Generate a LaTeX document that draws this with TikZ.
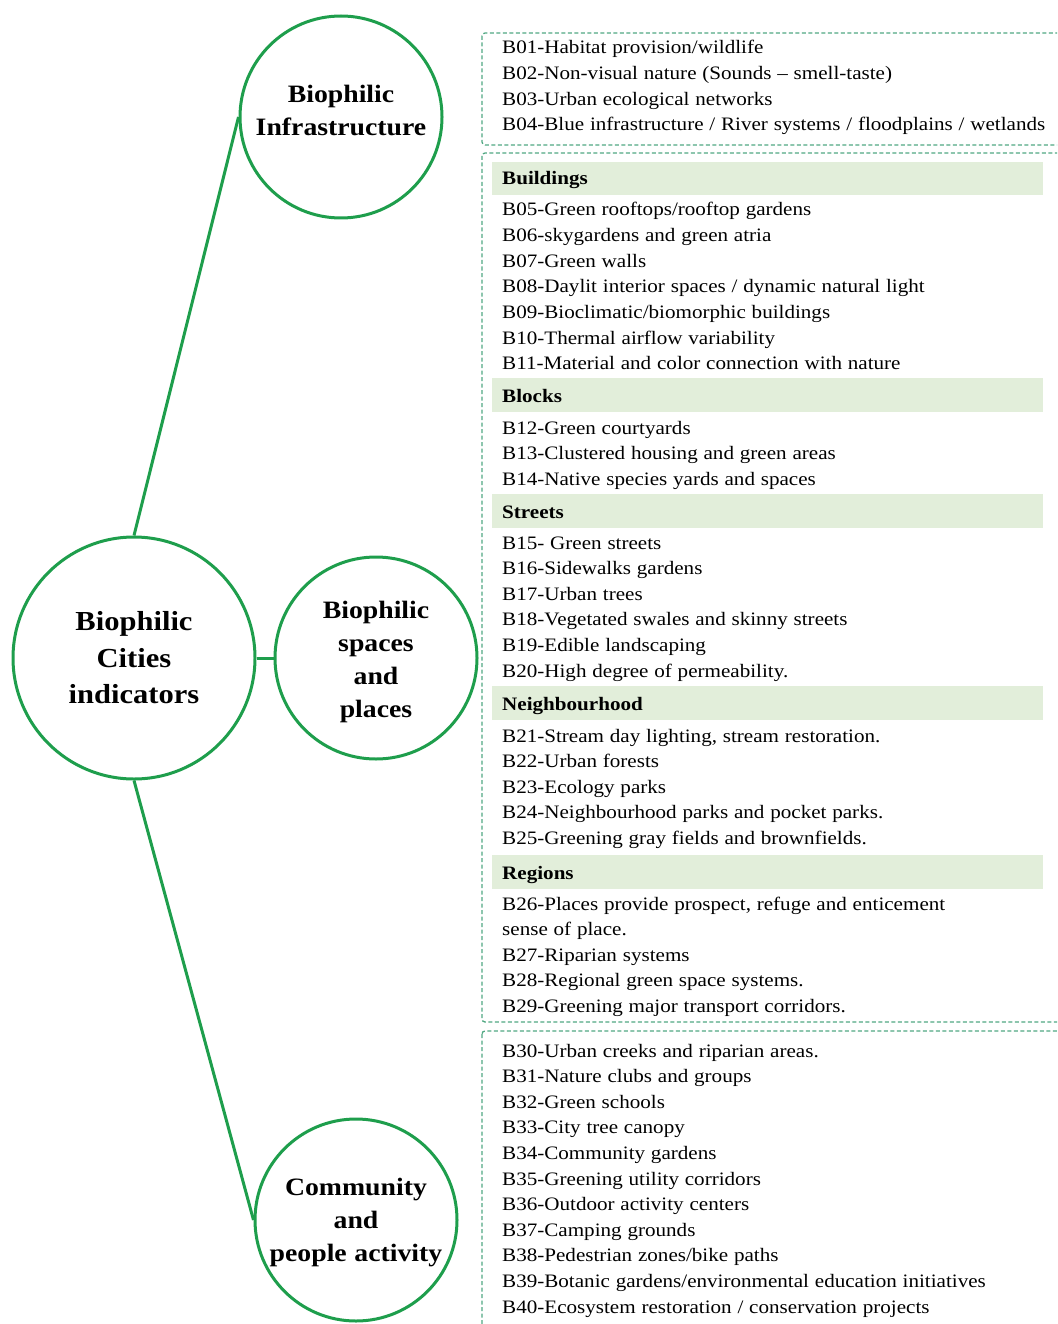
\documentclass[tikz,border=0pt]{standalone}
\usepackage{fontspec}
\setmainfont[FakeStretch=1.11, WordSpace=1.1]{Liberation Serif}
\definecolor{circgreen}{RGB}{30,158,76}
\definecolor{dashteal}{RGB}{80,168,130}
\definecolor{headfill}{RGB}{226,238,218}
\tikzset{
  circ/.style={circle, draw=circgreen, line width=3pt, fill=white, inner sep=0pt, minimum size=202pt},
  circtext/.style={align=center, font=\fontsize{25}{33}\selectfont\bfseries},
  dashbox/.style={draw=dashteal, line width=1.3pt, dash pattern=on 4pt off 2.5pt, rounded corners=3pt},
  headbar/.style={fill=headfill},
  itemtext/.style={anchor=base west, inner sep=0pt, font=\fontsize{19}{22}\selectfont},
  headtext/.style={itemtext, font=\fontsize{19}{22}\selectfont\bfseries}
}
\begin{document}
\begin{tikzpicture}[x=1pt, y=-1pt]

  \useasboundingbox (0,0) rectangle (1057,1324);
  \clip (0,0) rectangle (1057,1324);

  % Circles
  \node[circ, minimum size=242pt, font=\fontsize{27.5}{36.5}\selectfont\bfseries, align=center] (main) at (134,658) {Biophilic\\Cities\\indicators};
  \node[circ] (infra) at (341,117) {};
  \node[circtext] (infralabel) at ([yshift=7pt]infra.center) {Biophilic\\Infrastructure};
  \node[circ] (spaces) at (376,658) {};
  \node[circtext] (spaceslabel) at ([yshift=-3.5pt]spaces.center) {Biophilic\\spaces\\and\\places};
  \node[circ] (comm) at (356,1220) {};
  \node[circtext] (commlabel) at ([yshift=-3pt]comm.center) {Community\\and\\people activity};

  % Connectors
  \draw[circgreen, line width=3pt] (main.north) -- (infra.west);
  \draw[circgreen, line width=3pt] (main.east) -- (spaces.west);
  \draw[circgreen, line width=3pt] (main.south) -- (comm.west);

  % Dashed boxes
  \draw[dashbox] (482,33) rectangle (1075,145);
  \draw[dashbox] (482,153) rectangle (1075,1022);
  \draw[dashbox] (482,1031) rectangle (1075,1340);

  % Header bars
  \fill[headbar] (492,162) rectangle (1043,195);
  \fill[headbar] (492,378) rectangle (1043,412);
  \fill[headbar] (492,494) rectangle (1043,528);
  \fill[headbar] (492,686) rectangle (1043,720);
  \fill[headbar] (492,855) rectangle (1043,889);

  % Biophilic infrastructure
  \node[itemtext] (b01) at (502,54) {B01-Habitat provision/wildlife};
  \node[itemtext] (b02) at (502,79.6) {B02-Non-visual nature (Sounds -- smell-taste)};
  \node[itemtext] (b03) at (502,105.2) {B03-Urban ecological networks};
  \node[itemtext] (b04) at (502,130.8) {B04-Blue infrastructure / River systems / floodplains / wetlands};

  % Buildings
  \node[headtext] (buildings) at (502,185) {Buildings};
  \node[itemtext] (b05) at (502,216) {B05-Green rooftops/rooftop gardens};
  \node[itemtext] (b06) at (502,241.6) {B06-skygardens and green atria};
  \node[itemtext] (b07) at (502,267.2) {B07-Green walls};
  \node[itemtext] (b08) at (502,292.8) {B08-Daylit interior spaces / dynamic natural light};
  \node[itemtext] (b09) at (502,318.4) {B09-Bioclimatic/biomorphic buildings};
  \node[itemtext] (b10) at (502,344) {B10-Thermal airflow variability};
  \node[itemtext] (b11) at (502,369.6) {B11-Material and color connection with nature};

  % Blocks
  \node[headtext] (blocks) at (502,402) {Blocks};
  \node[itemtext] (b12) at (502,434) {B12-Green courtyards};
  \node[itemtext] (b13) at (502,459.6) {B13-Clustered housing and green areas};
  \node[itemtext] (b14) at (502,485.2) {B14-Native species yards and spaces};

  % Streets
  \node[headtext] (streets) at (502,518) {Streets};
  \node[itemtext] (b15) at (502,549) {B15- Green streets};
  \node[itemtext] (b16) at (502,574.6) {B16-Sidewalks gardens};
  \node[itemtext] (b17) at (502,600.2) {B17-Urban trees};
  \node[itemtext] (b18) at (502,625.8) {B18-Vegetated swales and skinny streets};
  \node[itemtext] (b19) at (502,651.4) {B19-Edible landscaping};
  \node[itemtext] (b20) at (502,677) {B20-High degree of permeability.};

  % Neighbourhood
  \node[headtext] (neighbourhood) at (502,710) {Neighbourhood};
  \node[itemtext] (b21) at (502,742) {B21-Stream day lighting, stream restoration.};
  \node[itemtext] (b22) at (502,767.6) {B22-Urban forests};
  \node[itemtext] (b23) at (502,793.2) {B23-Ecology parks};
  \node[itemtext] (b24) at (502,818.8) {B24-Neighbourhood parks and pocket parks.};
  \node[itemtext] (b25) at (502,844.4) {B25-Greening gray fields and brownfields.};

  % Regions
  \node[headtext] (regions) at (502,879) {Regions};
  \node[itemtext] (b26) at (502,910) {B26-Places provide prospect, refuge and enticement};
  \node[itemtext] (b26b) at (502,935.6) {sense of place.};
  \node[itemtext] (b27) at (502,961.2) {B27-Riparian systems};
  \node[itemtext] (b28) at (502,986.8) {B28-Regional green space systems.};
  \node[itemtext] (b29) at (502,1012.4) {B29-Greening major transport corridors.};

  % Community and people activity
  \node[itemtext] (b30) at (502,1057) {B30-Urban creeks and riparian areas.};
  \node[itemtext] (b31) at (502,1082.6) {B31-Nature clubs and groups};
  \node[itemtext] (b32) at (502,1108.2) {B32-Green schools};
  \node[itemtext] (b33) at (502,1133.8) {B33-City tree canopy};
  \node[itemtext] (b34) at (502,1159.4) {B34-Community gardens};
  \node[itemtext] (b35) at (502,1185) {B35-Greening utility corridors};
  \node[itemtext] (b36) at (502,1210.6) {B36-Outdoor activity centers};
  \node[itemtext] (b37) at (502,1236.2) {B37-Camping grounds};
  \node[itemtext] (b38) at (502,1261.8) {B38-Pedestrian zones/bike paths};
  \node[itemtext] (b39) at (502,1287.4) {B39-Botanic gardens/environmental education initiatives};
  \node[itemtext] (b40) at (502,1313) {B40-Ecosystem restoration / conservation projects};

\end{tikzpicture}
\end{document}
